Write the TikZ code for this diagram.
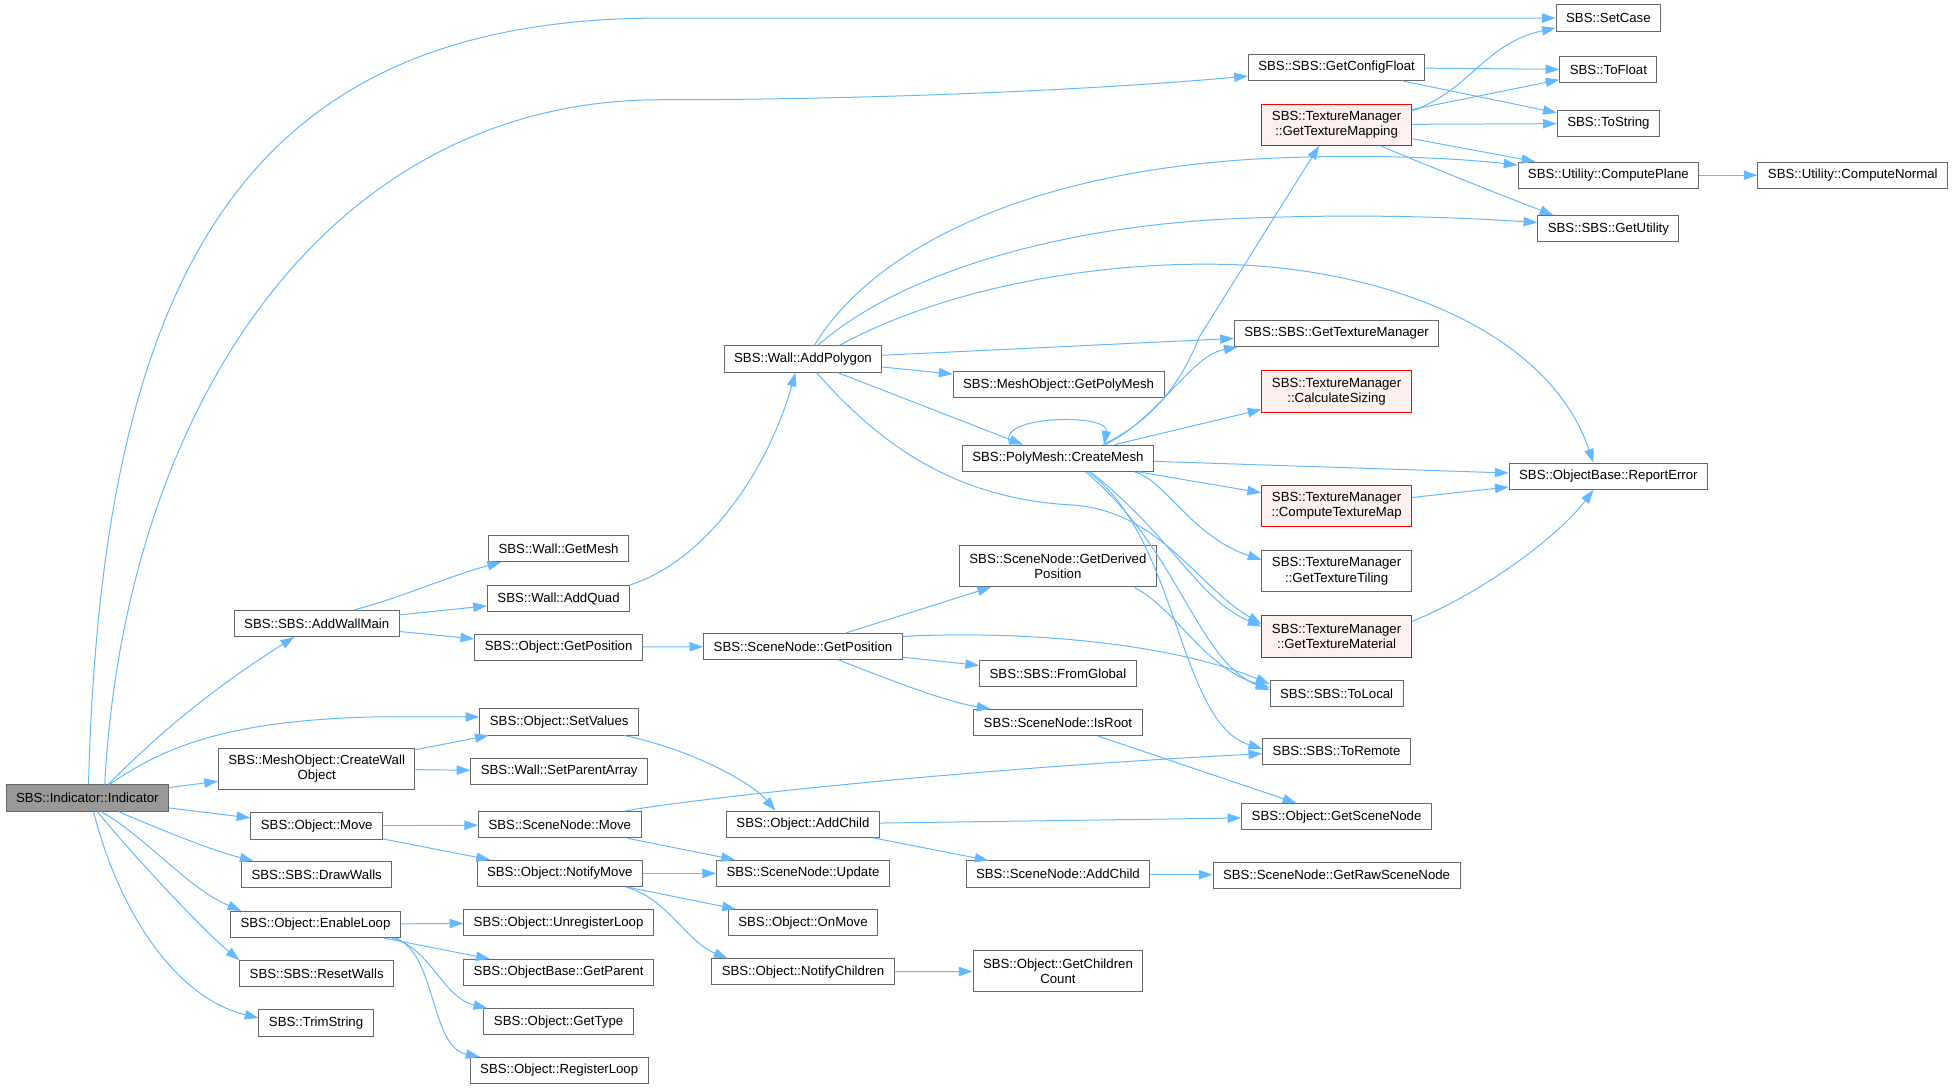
\documentclass[tikz,border=0pt]{standalone}
\usepackage{fontspec}
\setmainfont{Liberation Sans}
\usepackage{tikz}
\usetikzlibrary{arrows.meta, positioning, shapes}
\definecolor{edgeblue}{HTML}{63B8FF}
\definecolor{boxgray}{HTML}{666666}
\definecolor{rootgray}{HTML}{999999}
\definecolor{redfill}{HTML}{FFF0F0}
\tikzset{%
    nodesty/.style={
        draw=boxgray,
        fill=white,
        line width=0.8pt,
        align=center,
        inner xsep=8pt,
        inner ysep=0pt,
        minimum height=21pt,
        font=\fontsize{10.6}{12.4}\selectfont,
    },
    rnodesty/.style={
        nodesty,
        draw=red,
        fill=redfill,
    },
    rootsty/.style={
        nodesty,
        fill=rootgray,
    },
    edgesty/.style={
        draw=edgeblue,
        line width=0.8pt,
        -{Triangle[length=11pt,width=7.5pt]},
    },
}
\begin{document}
\begin{tikzpicture}[x=1pt,y=-1pt]
\useasboundingbox (0,0) rectangle (1568,874);

% caller
\node (ind) [rootsty] at (70,640) {SBS::Indicator::Indicator};

% first level calls
\node (addwall) [nodesty] at (254,500) {SBS::SBS::AddWallMain};
\node (cwall) [nodesty,minimum height=33pt] at (254,616.5) {SBS::MeshObject::CreateWall\\Object};
\node (omove) [nodesty] at (254,662.5) {SBS::Object::Move};
\node (drawwalls) [nodesty] at (254,701.5) {SBS::SBS::DrawWalls};
\node (enloop) [nodesty] at (253,741.5) {SBS::Object::EnableLoop};
\node (reset) [nodesty] at (254,781) {SBS::SBS::ResetWalls};
\node (trim) [nodesty] at (253.5,820.5) {SBS::TrimString};

% second column
\node (getmesh) [nodesty] at (448,440) {SBS::Wall::GetMesh};
\node (addquad) [nodesty] at (448,480) {SBS::Wall::AddQuad};
\node (ogetpos) [nodesty] at (448,519) {SBS::Object::GetPosition};
\node (setval) [nodesty] at (448.5,579) {SBS::Object::SetValues};
\node (setparent) [nodesty] at (448.5,618.5) {SBS::Wall::SetParentArray};
\node (smove) [nodesty] at (449,661.5) {SBS::SceneNode::Move};
\node (notify) [nodesty] at (449,700.5) {SBS::Object::NotifyMove};
\node (unreg) [nodesty] at (448,740) {SBS::Object::UnregisterLoop};
\node (getparent) [nodesty] at (448,780) {SBS::ObjectBase::GetParent};
\node (gettype) [nodesty] at (448,819.5) {SBS::Object::GetType};
\node (regloop) [nodesty] at (448.5,858.5) {SBS::Object::RegisterLoop};

% third column
\node (addpoly) [nodesty] at (644,288) {SBS::Wall::AddPolygon};
\node (sgetpos) [nodesty] at (644,518.5) {SBS::SceneNode::GetPosition};
\node (oaddchild) [nodesty] at (644,661) {SBS::Object::AddChild};
\node (update) [nodesty] at (644,700.5) {SBS::SceneNode::Update};
\node (onmove) [nodesty] at (644,740) {SBS::Object::OnMove};
\node (notifych) [nodesty] at (644,779.5) {SBS::Object::NotifyChildren};

% fourth column
\node (polymesh) [nodesty] at (849,308.5) {SBS::MeshObject::GetPolyMesh};
\node (cmesh) [nodesty] at (848.5,367.5) {SBS::PolyMesh::CreateMesh};
\node (gderiv) [nodesty,minimum height=33pt] at (848.5,454) {SBS::SceneNode::GetDerived\\Position};
\node (fromglob) [nodesty] at (848.5,540.5) {SBS::SBS::FromGlobal};
\node (isroot) [nodesty] at (848.5,579.5) {SBS::SceneNode::IsRoot};
\node (saddchild) [nodesty] at (848.5,701) {SBS::SceneNode::AddChild};
\node (childcount) [nodesty,minimum height=33pt] at (848.5,779) {SBS::Object::GetChildren\\Count};

% fifth column
\node (getconfig) [nodesty] at (1072,54) {SBS::SBS::GetConfigFloat};
\node (texmap) [rnodesty,minimum height=33pt] at (1072,100) {SBS::TextureManager\\::GetTextureMapping};
\node (texmgr) [nodesty] at (1072,267.5) {SBS::SBS::GetTextureManager};
\node (calcsize) [rnodesty,minimum height=33pt] at (1072,314) {SBS::TextureManager\\::CalculateSizing};
\node (ctexmap) [rnodesty,minimum height=33pt] at (1072,405.5) {SBS::TextureManager\\::ComputeTextureMap};
\node (textile) [nodesty,minimum height=33pt] at (1072,458) {SBS::TextureManager\\::GetTextureTiling};
\node (texmat) [rnodesty,minimum height=33pt] at (1072,510.5) {SBS::TextureManager\\::GetTextureMaterial};
\node (tolocal) [nodesty] at (1072,556.5) {SBS::SBS::ToLocal};
\node (toremote) [nodesty] at (1072,602.5) {SBS::SBS::ToRemote};
\node (getscene) [nodesty] at (1072,655) {SBS::Object::GetSceneNode};
\node (rawscene) [nodesty] at (1072,702) {SBS::SceneNode::GetRawSceneNode};

% sixth and last column
\node (setcase) [nodesty] at (1290,14.5) {SBS::SetCase};
\node (tofloat) [nodesty] at (1290,56) {SBS::ToFloat};
\node (tostring) [nodesty] at (1290,99) {SBS::ToString};
\node (cplane) [nodesty] at (1290,140.5) {SBS::Utility::ComputePlane};
\node (getutil) [nodesty] at (1290,183.5) {SBS::SBS::GetUtility};
\node (reperr) [nodesty] at (1290,382) {SBS::ObjectBase::ReportError};
\node (cnormal) [nodesty] at (1486,140.5) {SBS::Utility::ComputeNormal};

% calls from the indicator
\draw[edgesty] ([xshift=1]ind.north) .. controls (82,200) and (210,14.5) .. (530,14.5) -- (setcase.west);
\draw[edgesty] ([xshift=14]ind.north) .. controls (100,330) and (260,80) .. (530,80) .. controls (700,80) and (880,72) .. ([yshift=-7]getconfig.west);
\draw[edgesty] ([xshift=17]ind.north) .. controls (140,575) and (190,540) .. ([xshift=-18]addwall.south);
\draw[edgesty] ([xshift=18]ind.north) .. controls (130,600) and (180,578) .. (300,575) -- ([yshift=4]setval.west);
\draw[edgesty] (ind) -- (cwall);
\draw[edgesty] (ind) -- (omove);
\draw[edgesty] ([xshift=25]ind.south) .. controls (135,668) and (170,682) .. ([xshift=10]drawwalls.north west);
\draw[edgesty] ([xshift=11]ind.south) .. controls (118,672) and (150,712) .. ([xshift=9]enloop.north west);
\draw[edgesty] ([xshift=8]ind.south) .. controls (110,690) and (165,748) .. (reset.north west);
\draw[edgesty] ([xshift=5]ind.south) .. controls (95,730) and (140,800) .. ([yshift=4]trim.west);

% second level
\draw[edgesty] ([xshift=30]addwall.north) .. controls (320,480) and (360,462) .. ([xshift=-46]getmesh.south);
\draw[edgesty] (addwall) -- (addquad);
\draw[edgesty] (addwall) -- (ogetpos);
\draw[edgesty] (cwall) -- (setval);
\draw[edgesty] (cwall) -- (setparent);
\draw[edgesty] (omove) -- (smove);
\draw[edgesty] (omove) -- (notify);
\draw[edgesty] (enloop) -- (unreg);
\draw[edgesty] (enloop) -- (getparent);
\draw[edgesty] ([xshift=-7]enloop.south east) .. controls (345,760) and (355,800) .. ([xshift=3]gettype.north west);
\draw[edgesty] ([xshift=-4]enloop.south east) .. controls (350,765) and (345,840) .. ([xshift=8]regloop.north west);

% third level
\draw[edgesty] (addquad.north east) .. controls (565,450) and (615,380) .. ([xshift=-6]addpoly.south);
\draw[edgesty] (ogetpos) -- (sgetpos);
\draw[edgesty] ([xshift=-12]setval.south east) .. controls (550,600) and (600,625) .. ([xshift=-22]oaddchild.north);
\draw[edgesty] ([xshift=-14]smove.north east) .. controls (540,643) and (750,618) .. ([yshift=-2]toremote.west);
\draw[edgesty] (smove) -- (update);
\draw[edgesty] (notify) -- (update);
\draw[edgesty] (notify) -- (onmove);
\draw[edgesty] ([xshift=-14]notify.south east) .. controls (535,720) and (550,755) .. ([xshift=13]notifych.north west);
\draw[edgesty] (notifych) -- (childcount);
\draw[edgesty] (oaddchild) -- (getscene);
\draw[edgesty] (oaddchild) -- (saddchild);
\draw[edgesty] (saddchild) -- (rawscene);

% scene node position
\draw[edgesty] (sgetpos) -- (gderiv);
\draw[edgesty] (sgetpos) -- (fromglob);
\draw[edgesty] ([xshift=29]sgetpos.south) .. controls (720,548) and (760,563) .. ([xshift=-54]isroot.north);
\draw[edgesty] ([yshift=8]sgetpos.east) .. controls (800,506) and (930,512) .. ([yshift=8]tolocal.west);
\draw[edgesty] ([xshift=61]gderiv.south) .. controls (945,490) and (965,535) .. ([yshift=5]tolocal.west);
\draw[edgesty] (isroot) -- (getscene);

% polygon
\draw[edgesty] ([xshift=9]addpoly.north) .. controls (700,200) and (820,140) .. (1000,128) .. controls (1100,122) and (1180,128) .. ([yshift=8]cplane.west);
\draw[edgesty] ([xshift=12]addpoly.north) .. controls (720,220) and (850,180) .. (1000,175) .. controls (1100,171) and (1180,175) .. ([yshift=5]getutil.west);
\draw[edgesty] ([xshift=29]addpoly.north) .. controls (760,230) and (880,210) .. (980,212) .. controls (1100,214) and (1240,260) .. ([xshift=-12]reperr.north);
\draw[edgesty] (addpoly) -- (texmgr);
\draw[edgesty] (addpoly) -- (polymesh);
\draw[edgesty] (addpoly) -- (cmesh);
\draw[edgesty] ([xshift=11]addpoly.south) .. controls (700,350) and (760,400) .. (860,405) .. controls (930,410) and (960,470) .. ([yshift=10]texmat.west);

% mesh creation
\draw[edgesty] ([xshift=-38]cmesh.north) .. controls (795,333) and (890,331) .. ([xshift=37]cmesh.north);
\draw[edgesty] ([xshift=36]cmesh.north) .. controls (930,335) and (950,300) .. (962,270) -- ([xshift=-14]texmap.south);
\draw[edgesty] ([xshift=38]cmesh.north) .. controls (930,335) and (955,285) .. ([xshift=3]texmgr.south west);
\draw[edgesty] (cmesh) -- (calcsize);
\draw[edgesty] (cmesh) -- (reperr);
\draw[edgesty] (cmesh) -- (ctexmap);
\draw[edgesty] ([xshift=61]cmesh.south) .. controls (935,385) and (955,430) .. ([yshift=9]textile.west);
\draw[edgesty] ([xshift=26]cmesh.south) .. controls (940,430) and (960,480) .. ([yshift=8]texmat.west);
\draw[edgesty] ([xshift=22]cmesh.south) .. controls (945,440) and (960,530) .. ([yshift=3]tolocal.west);
\draw[edgesty] ([xshift=24]cmesh.south) .. controls (945,430) and (945,580) .. ([yshift=2]toremote.west);

% texture manager and config
\draw[edgesty] ([yshift=-6]texmap.north east) .. controls (1180,72) and (1190,35) .. ([yshift=3]setcase.south west);
\draw[edgesty] (texmap) -- (tofloat);
\draw[edgesty] (texmap) -- (tostring);
\draw[edgesty] (texmap) -- (cplane);
\draw[edgesty] ([xshift=35]texmap.south) .. controls (1150,135) and (1200,155) .. ([xshift=-44]getutil.north);
\draw[edgesty] (getconfig) -- (tofloat);
\draw[edgesty] (getconfig) -- (tostring);
\draw[edgesty] (cplane) -- (cnormal);
\draw[edgesty] (ctexmap) -- (reperr);
\draw[edgesty] ([yshift=12]texmat.east) .. controls (1190,475) and (1250,430) .. ([xshift=-12]reperr.south);

\end{tikzpicture}
\end{document}
